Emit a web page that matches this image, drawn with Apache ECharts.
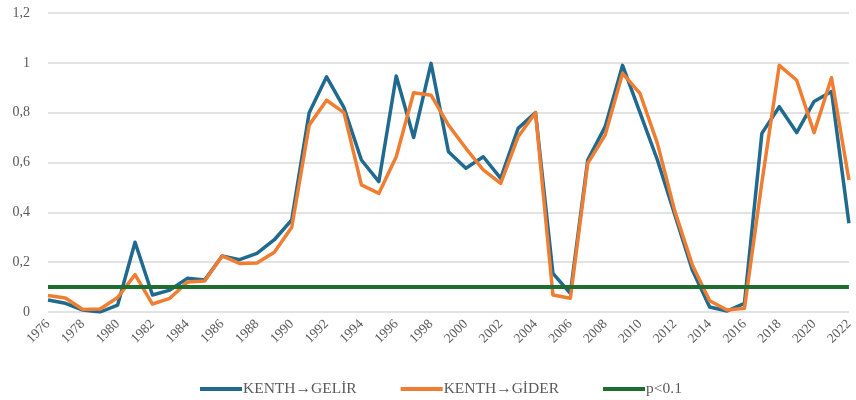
<!DOCTYPE html>
<html>
<head>
<meta charset="utf-8">
<script src="https://cdn.jsdelivr.net/npm/echarts@6/dist/echarts.min.js"></script>
<style>
html,body{margin:0;padding:0;background:#fff;}
#chart{width:856px;height:400px;}
</style>
</head>
<body>
<div id="chart"></div>
<script>
var years = [];
for (var y = 1976; y <= 2022; y++) years.push(String(y));

var gelir = [0.048,0.035,0.008,0.0,0.028,0.28,0.068,0.088,0.135,0.128,
  0.225,0.21,0.235,0.29,0.37,0.80,0.944,0.82,0.61,0.523,
  0.947,0.70,0.998,0.643,0.577,0.623,0.536,0.737,0.80,0.155,
  0.075,0.61,0.744,0.99,0.80,0.61,0.39,0.17,0.02,0.004,
  0.035,0.717,0.824,0.72,0.845,0.885,0.356];

var gider = [0.066,0.056,0.01,0.012,0.058,0.15,0.032,0.055,0.12,0.124,
  0.225,0.195,0.197,0.24,0.34,0.75,0.85,0.80,0.51,0.476,
  0.623,0.88,0.87,0.75,0.657,0.57,0.516,0.703,0.80,0.068,
  0.055,0.597,0.71,0.958,0.877,0.677,0.405,0.19,0.045,0.008,
  0.015,0.52,0.99,0.93,0.72,0.94,0.53];

var pLevel = years.map(function(){ return 0.1; });

var seriesNames = ['KENTH\u2192GEL\u0130R', 'KENTH\u2192G\u0130DER', 'p<0.1'];
var colors = ['#1f6a8e', '#ef7d32', '#1e6e31'];

var font = '"Liberation Serif", "DejaVu Serif", serif';
var chart = echarts.init(document.getElementById('chart'));
chart.setOption({
  animation: false,
  backgroundColor: '#ffffff',
  grid: {left: 48, right: 3, top: 13, bottom: 88},
  legend: {
    top: 376,
    left: 195,
    itemWidth: 42,
    itemHeight: 4,
    itemGap: 44,
    icon: 'rect',
    textStyle: {fontFamily: font, fontSize: 15.5, color: '#595959', padding: [0,0,0,-4]},
    data: seriesNames
  },
  xAxis: {
    type: 'category',
    data: years,
    boundaryGap: false,
    axisLine: {show: false},
    axisTick: {show: false},
    axisLabel: {interval: 1, rotate: 45, fontFamily: font, fontSize: 13.5, color: '#595959', margin: 10}
  },
  yAxis: {
    type: 'value',
    min: 0, max: 1.2, interval: 0.2,
    axisLine: {show: false},
    axisTick: {show: false},
    splitLine: {lineStyle: {color: '#d9d9d9', width: 1.5}},
    axisLabel: {
      fontFamily: font, fontSize: 14, color: '#595959', margin: 18,
      formatter: function(v){ return String(Math.round(v*10)/10).replace('.', ','); }
    }
  },
  series: [
    {name: seriesNames[0], type: 'line', data: gelir, showSymbol: false, symbol: 'none',
     lineStyle: {color: colors[0], width: 3.5, join: 'round'}, itemStyle: {color: colors[0]}, z: 3},
    {name: seriesNames[1], type: 'line', data: gider, showSymbol: false, symbol: 'none',
     lineStyle: {color: colors[1], width: 3.5, join: 'round'}, itemStyle: {color: colors[1]}, z: 4},
    {name: seriesNames[2], type: 'line', data: pLevel, showSymbol: false, symbol: 'none',
     lineStyle: {color: colors[2], width: 4}, itemStyle: {color: colors[2]}, z: 5}
  ]
});
</script>
</body>
</html>
